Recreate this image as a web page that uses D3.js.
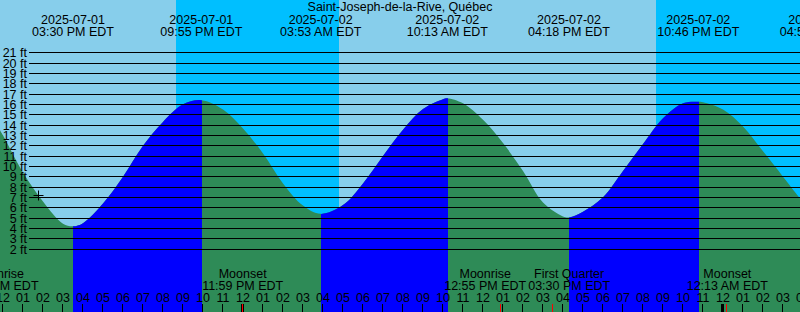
<!DOCTYPE html>
<html>
<head>
<meta charset="utf-8">
<script src="https://cdn.jsdelivr.net/npm/d3@7"></script>
<style>
    body { margin: 0; }
    svg { display: block; font-family: "Liberation Sans", Arial, sans-serif; font-size: 12.5px; }
</style>
</head>
<body>
<div id="chart"></div>
<script>
// station
var stationName = "Saint-Joseph-de-la-Rive, Québec";

// tide curve (EDT wall clock, feet)
var tideTimes = [
    "2025-07-01 11:51", "2025-07-01 12:00", "2025-07-01 13:00", "2025-07-01 14:00",
    "2025-07-01 15:00", "2025-07-01 15:30", "2025-07-01 16:00", "2025-07-01 17:00",
    "2025-07-01 18:00", "2025-07-01 19:00", "2025-07-01 20:00", "2025-07-01 21:00",
    "2025-07-01 21:55", "2025-07-01 23:00", "2025-07-02 00:00", "2025-07-02 01:00",
    "2025-07-02 02:00", "2025-07-02 03:00", "2025-07-02 03:53", "2025-07-02 05:00",
    "2025-07-02 06:00", "2025-07-02 07:00", "2025-07-02 08:00", "2025-07-02 09:00",
    "2025-07-02 10:00", "2025-07-02 10:13", "2025-07-02 11:00", "2025-07-02 12:00",
    "2025-07-02 13:00", "2025-07-02 14:00", "2025-07-02 15:00", "2025-07-02 16:00",
    "2025-07-02 16:18", "2025-07-02 17:00", "2025-07-02 18:00", "2025-07-02 19:00",
    "2025-07-02 20:00", "2025-07-02 21:00", "2025-07-02 22:00", "2025-07-02 22:46",
    "2025-07-02 23:00", "2025-07-03 00:00", "2025-07-03 01:00", "2025-07-03 02:00",
    "2025-07-03 03:00", "2025-07-03 03:51"
];
var tideFeet = [
    13.5, 13.0, 9.4, 6.6,
    4.45, 4.2, 4.5, 6.4,
    9.0, 12.0, 14.3, 16.0,
    16.4, 15.5, 13.65, 11.25,
    8.35, 6.2, 5.4, 6.25,
    8.35, 11.0, 13.55, 15.55,
    16.5, 16.6, 16.1, 14.5,
    12.25, 9.55, 6.5, 5.15,
    5.05, 5.6, 7.0, 9.55,
    12.15, 14.65, 16.1, 16.25,
    16.2, 15.5, 13.85, 11.45,
    9.0, 6.9
];

// high / low tide events
var tideEventTimes = ["2025-07-01 15:30", "2025-07-01 21:55", "2025-07-02 03:53", "2025-07-02 10:13",
    "2025-07-02 16:18", "2025-07-02 22:46", "2025-07-03 04:52"];
var tideEventTypes = ["low", "high", "low", "high", "low", "high", "low"];

// sun
var sunsetTimes = ["2025-07-01 20:39", "2025-07-02 20:39"];
var sunriseTimes = ["2025-07-02 04:48", "2025-07-03 04:49"];

// moon
var moonTimes = ["2025-07-01 11:46", "2025-07-01 23:59", "2025-07-02 12:55", "2025-07-02 15:30", "2025-07-03 00:13"];
var moonNames = ["Moonrise", "Moonset", "Moonrise", "First Quarter", "Moonset"];

// y axis labels
var feetTicks = [2, 3, 4, 5, 6, 7, 8, 9, 10, 11, 12, 13, 14, 15, 16, 17, 18, 19, 20, 21];

// current time marker
var nowTime = "2025-07-01 13:45";
var nowFeet = 7.2;

var parseTime = d3.utcParse("%Y-%m-%d %H:%M");
var fmtDate = d3.utcFormat("%Y-%m-%d");
var fmtTime = d3.utcFormat("%I:%M %p EDT");
var fmtHour = d3.utcFormat("%I");

var svgWidth = 800;
var svgHeight = 312;

var svg = d3.select("#chart")
    .append("svg")
    .attr("width", svgWidth)
    .attr("height", svgHeight);

var start = parseTime("2025-07-01 11:51");
var end = parseTime("2025-07-03 03:51");

var xScale = d3.scaleUtc()
    .domain([start, end])
    .range([0, svgWidth]);

var yScale = d3.scaleLinear()
    .domain([0, 21])
    .range([269.67, 52.67]);

// background: day and night
svg.append("rect")
    .attr("width", svgWidth)
    .attr("height", svgHeight)
    .attr("fill", "#87ceeb");

svg.selectAll(".night")
    .data(sunsetTimes)
    .enter()
    .append("rect")
    .attr("class", "night")
    .attr("x", d => Math.round(xScale(parseTime(d))))
    .attr("y", 0)
    .attr("width", function(d, i) {
        var x1 = Math.min(svgWidth, Math.round(xScale(parseTime(sunriseTimes[i]))));
        return x1 - Math.round(xScale(parseTime(d)));
    })
    .attr("height", svgHeight)
    .attr("fill", "#00bfff");

// tide area
var tideData = tideTimes.map((t, i) => ({ t: parseTime(t), h: tideFeet[i] }));

var area = d3.area()
    .x(d => xScale(d.t))
    .y0(svgHeight)
    .y1(d => yScale(d.h))
    .curve(d3.curveCatmullRom.alpha(0.5));

// rising periods (low -> high)
var rising = [];
tideEventTimes.forEach(function(t, i) {
    if (tideEventTypes[i] == "low" && i + 1 < tideEventTimes.length) {
        rising.push([parseTime(t), parseTime(tideEventTimes[i + 1])]);
    }
});

svg.append("clipPath")
    .attr("id", "risingClip")
    .selectAll("rect")
    .data(rising)
    .enter()
    .append("rect")
    .attr("x", d => Math.ceil(xScale(d[0])))
    .attr("y", 0)
    .attr("width", d => Math.ceil(xScale(d[1])) - Math.ceil(xScale(d[0])))
    .attr("height", svgHeight);

svg.append("path")
    .datum(tideData)
    .attr("d", area)
    .attr("fill", "#2e8b57");

svg.append("path")
    .datum(tideData)
    .attr("d", area)
    .attr("fill", "#0000ff")
    .attr("clip-path", "url(#risingClip)");

// grid lines + labels
svg.selectAll(".grid")
    .data(feetTicks)
    .enter()
    .append("line")
    .attr("class", "grid")
    .attr("x1", 29)
    .attr("x2", svgWidth)
    .attr("y1", d => Math.floor(yScale(d)) + 0.5)
    .attr("y2", d => Math.floor(yScale(d)) + 0.5)
    .attr("stroke", "black")
    .attr("stroke-width", 1);

svg.selectAll(".ylab")
    .data(feetTicks)
    .enter()
    .append("text")
    .attr("class", "ylab")
    .attr("x", 27)
    .attr("y", d => Math.floor(yScale(d)) + 4.8)
    .attr("text-anchor", "end")
    .text(d => d + " ft");

// title
svg.append("text")
    .attr("x", svgWidth / 2)
    .attr("y", 11)
    .attr("text-anchor", "middle")
    .text(stationName);

// tide event labels at top
var tideLabels = svg.selectAll(".tidelabel")
    .data(tideEventTimes.map(parseTime))
    .enter()
    .append("g")
    .attr("class", "tidelabel")
    .attr("transform", d => `translate(${xScale(d)}, 0)`);

tideLabels.append("text")
    .attr("y", 24)
    .attr("text-anchor", "middle")
    .text(d => fmtDate(d));

tideLabels.append("text")
    .attr("y", 36)
    .attr("text-anchor", "middle")
    .text(d => fmtTime(d));

// moon labels at bottom, pushed apart when they collide
var moonData = moonTimes.map((t, i) => ({ t: parseTime(t), name: moonNames[i], x: xScale(parseTime(t)) }));

var moonLabels = svg.selectAll(".moonlabel")
    .data(moonData)
    .enter()
    .append("g")
    .attr("class", "moonlabel");

moonLabels.append("text")
    .attr("y", 278)
    .attr("text-anchor", "middle")
    .text(d => d.name);

moonLabels.append("text")
    .attr("y", 290)
    .attr("text-anchor", "middle")
    .text(d => fmtTime(d.t));

moonLabels.each(function(d) {
    var w = 0;
    d3.select(this).selectAll("text").each(function() {
        w = Math.max(w, this.getComputedTextLength());
    });
    d.w = w;
});

for (var i = 1; i < moonData.length; i++) {
    var a = moonData[i - 1], b = moonData[i];
    var overlap = (a.x + a.w / 2 + 2) - (b.x - b.w / 2);
    if (overlap > 0) {
        a.x -= overlap / 2;
        b.x += overlap / 2;
    }
}

moonLabels.attr("transform", d => `translate(${d.x}, 0)`);

// hour ticks
var hours = d3.utcHour.range(d3.utcHour.floor(start), d3.utcHour.offset(end, 1));

svg.selectAll(".hourlab")
    .data(hours)
    .enter()
    .append("text")
    .attr("class", "hourlab")
    .attr("x", d => xScale(d))
    .attr("y", 302)
    .attr("text-anchor", "middle")
    .text(d => fmtHour(d));

svg.selectAll(".hourtick")
    .data(hours)
    .enter()
    .append("rect")
    .attr("class", "hourtick")
    .attr("x", d => Math.round(xScale(d)) - (d.getUTCHours() == 0 ? 2 : 1))
    .attr("y", 304)
    .attr("width", d => d.getUTCHours() == 0 ? 3 : 1)
    .attr("height", 8)
    .attr("fill", "black");

svg.selectAll(".moontick")
    .data(moonData)
    .enter()
    .append("rect")
    .attr("class", "moontick")
    .attr("x", d => Math.round(xScale(d.t)) - 1)
    .attr("y", 304)
    .attr("width", 1)
    .attr("height", 8)
    .attr("fill", "red");

// current time marker
var nx = Math.round(xScale(parseTime(nowTime))) + 0.5;
var ny = Math.round(yScale(nowFeet)) + 0.5;

svg.append("path")
    .attr("d", `M${nx - 5},${ny}H${nx + 5}M${nx},${ny - 5}V${ny + 5}`)
    .attr("stroke", "black")
    .attr("stroke-width", 1)
    .attr("fill", "none");
</script>
</body>
</html>
